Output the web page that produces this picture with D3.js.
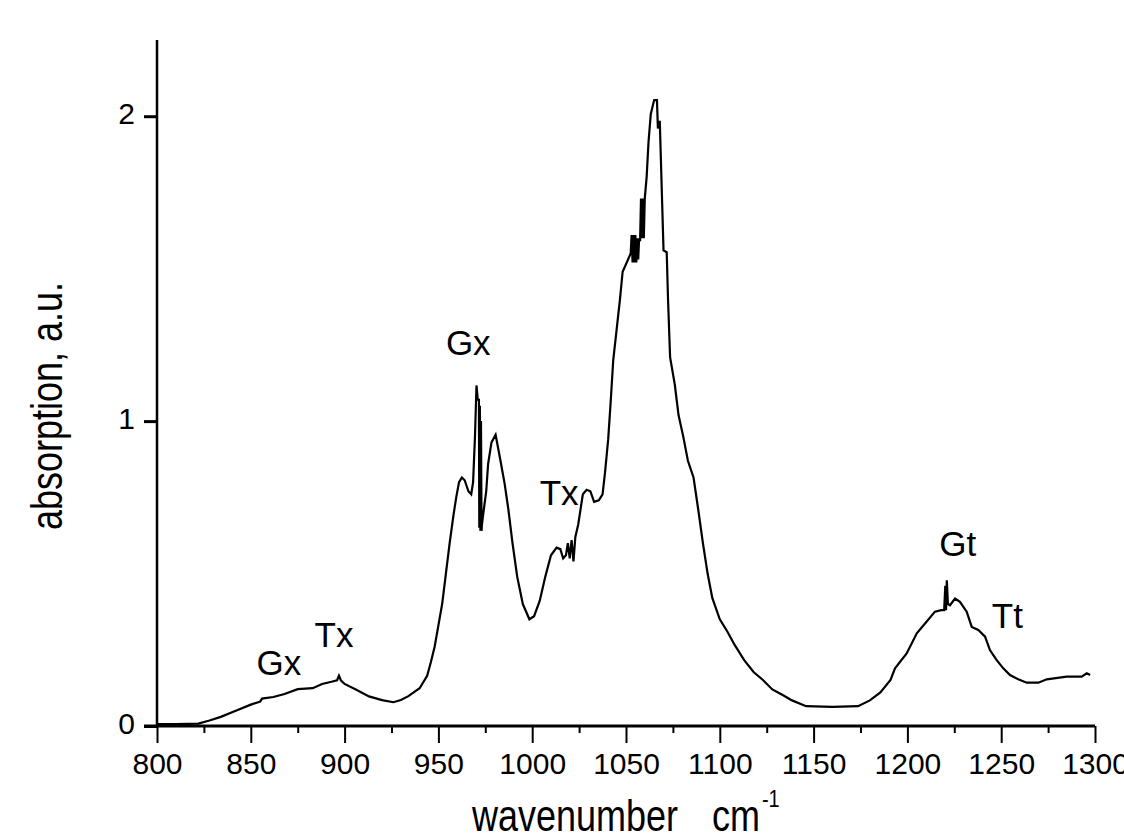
<!DOCTYPE html>
<html>
<head>
<meta charset="utf-8">
<script src="https://cdn.jsdelivr.net/npm/d3@7"></script>
<style>
  html, body { margin: 0; padding: 0; background: #fff; }
  svg { display: block; }
  text { font-family: "Liberation Sans", Arial, sans-serif; fill: #000; }
</style>
</head>
<body>
<svg id="chart" width="1124" height="834"></svg>
<script>
// ---- data ----
const wavenumber = [800, 810, 822, 828, 834, 842, 850, 855, 856, 862, 868, 875, 883, 888, 893, 896, 897, 898, 900, 906, 913, 920, 926, 930, 934, 940, 944, 946, 948, 950, 952, 954, 956, 958, 959.5, 961, 962.5, 964, 966, 967.5, 968.5, 969.5, 970.3, 971, 971.6, 971.8, 972.1, 972.4, 972.7, 973, 973.2, 974, 975.5, 976.5, 978.3, 980.5, 982.8, 985.3, 987.3, 989.5, 992, 995, 998.5, 1001, 1004, 1007, 1010, 1013, 1015, 1016.5, 1018, 1019, 1020, 1021, 1022, 1023, 1024.5, 1025.5, 1027, 1029, 1031, 1033, 1035.5, 1037.5, 1038.8, 1040.5, 1041.8, 1043.2, 1045, 1046.8, 1048.2, 1050.4, 1052.5, 1053, 1053.5, 1054, 1054.5, 1055, 1055.5, 1056, 1056.5, 1057, 1057.5, 1058, 1058.5, 1059, 1059.5, 1060, 1061, 1062, 1063.2, 1065, 1066.5, 1067, 1068, 1069, 1070, 1071.7, 1072.4, 1073.5, 1076, 1078, 1080.5, 1083, 1086, 1088.5, 1091, 1093.5, 1096, 1100, 1104, 1108, 1113, 1118, 1123, 1128, 1134, 1138.5, 1146, 1160, 1173.7, 1180, 1185.6, 1191, 1193.4, 1199.6, 1205, 1209.4, 1214.7, 1218, 1219.6, 1220.2, 1220.6, 1221, 1221.6, 1222.7, 1225.4, 1228, 1231.6, 1234.3, 1237.8, 1241.4, 1244, 1247.6, 1251.1, 1254.7, 1259.1, 1263.6, 1269.8, 1274.3, 1284.9, 1292.9, 1295.6, 1297.4];
const absorption = [0.006, 0.006, 0.008, 0.018, 0.03, 0.05, 0.07, 0.08, 0.09, 0.095, 0.105, 0.121, 0.124, 0.138, 0.145, 0.15, 0.165, 0.15, 0.138, 0.12, 0.097, 0.085, 0.078, 0.085, 0.098, 0.124, 0.165, 0.21, 0.26, 0.33, 0.40, 0.50, 0.60, 0.69, 0.75, 0.80, 0.815, 0.806, 0.77, 0.76, 0.80, 0.95, 1.117, 1.07, 1.07, 0.65, 1.05, 0.64, 1.0, 0.64, 0.66, 0.70, 0.77, 0.86, 0.93, 0.955, 0.88, 0.795, 0.71, 0.60, 0.49, 0.40, 0.35, 0.36, 0.41, 0.49, 0.56, 0.585, 0.58, 0.55, 0.56, 0.60, 0.55, 0.61, 0.54, 0.62, 0.66, 0.70, 0.76, 0.775, 0.77, 0.735, 0.74, 0.76, 0.83, 0.94, 1.06, 1.20, 1.30, 1.40, 1.49, 1.52, 1.55, 1.61, 1.52, 1.61, 1.52, 1.61, 1.52, 1.60, 1.53, 1.60, 1.59, 1.73, 1.60, 1.73, 1.60, 1.73, 1.80, 1.915, 2.007, 2.053, 2.053, 1.96, 1.985, 1.773, 1.56, 1.554, 1.40, 1.21, 1.12, 1.02, 0.95, 0.87, 0.815, 0.71, 0.60, 0.50, 0.42, 0.35, 0.31, 0.265, 0.216, 0.177, 0.151, 0.12, 0.10, 0.084, 0.065, 0.063, 0.065, 0.084, 0.11, 0.151, 0.189, 0.238, 0.304, 0.336, 0.375, 0.38, 0.38, 0.46, 0.38, 0.478, 0.40, 0.396, 0.418, 0.407, 0.375, 0.325, 0.315, 0.293, 0.249, 0.216, 0.189, 0.167, 0.153, 0.142, 0.142, 0.153, 0.162, 0.162, 0.173, 0.167];

const xTicks = [800, 850, 900, 950, 1000, 1050, 1100, 1150, 1200, 1250, 1300];
const xMinorTicks = [825, 875, 925, 975, 1025, 1075, 1125, 1175, 1225, 1275];
const yTicks = [0, 1, 2];

const bandLabels = ["Gx", "Tx", "Gx", "Tx", "Gt", "Tt"];
const bandLabelX = [853, 884, 954, 1004, 1217, 1245];   // wavenumber of label left edge
const bandLabelY = [0.167, 0.259, 1.216, 0.724, 0.557, 0.321]; // absorption at baseline

const xTitle = "wavenumber";
const xTitleUnit = "cm";
const xTitleSup = "-1";
const yTitle = "absorption, a.u.";

// ---- layout ----
const svg = d3.select("#chart");
const mLeft = 157, mRight = 1095, mTop = 40, mBottom = 726;

const x = d3.scaleLinear().domain([800, 1300]).range([mLeft, mRight]);
const y = d3.scaleLinear().domain([0, 2.25]).range([mBottom, mTop]);

// axis lines
svg.append("line").attr("x1", mLeft - 13).attr("x2", mRight).attr("y1", mBottom).attr("y2", mBottom)
  .attr("stroke", "#000").attr("stroke-width", 3);
svg.append("line").attr("x1", mLeft).attr("x2", mLeft).attr("y1", mTop).attr("y2", mBottom)
  .attr("stroke", "#000").attr("stroke-width", 2.5);

// x axis ticks
const xAxis = d3.axisBottom(x).tickValues(xTicks).tickSize(17).tickPadding(10).tickFormat(d3.format("d"));
const gx = svg.append("g").attr("transform", `translate(0,${mBottom})`).call(xAxis);
gx.select(".domain").remove();
gx.selectAll(".tick line").attr("stroke", "#000").attr("stroke-width", 2);
gx.selectAll(".tick text").attr("font-size", 30).attr("font-family", "Liberation Sans, Arial, sans-serif")
  .attr("fill", "#000").attr("dy", null).attr("y", 48);

const xMinor = d3.axisBottom(x).tickValues(xMinorTicks).tickSize(7).tickFormat("");
const gxm = svg.append("g").attr("transform", `translate(0,${mBottom})`).call(xMinor);
gxm.select(".domain").remove();
gxm.selectAll(".tick line").attr("stroke", "#000").attr("stroke-width", 2);

// y axis ticks
const yAxis = d3.axisLeft(y).tickValues(yTicks).tickSize(13).tickPadding(9).tickFormat(d3.format("d"));
const gy = svg.append("g").attr("transform", `translate(${mLeft},0)`).call(yAxis);
gy.select(".domain").remove();
gy.selectAll(".tick line").attr("stroke", "#000").attr("stroke-width", 3);
gy.selectAll(".tick text").attr("font-size", 30).attr("font-family", "Liberation Sans, Arial, sans-serif")
  .attr("fill", "#000").attr("dy", "0.25em").attr("x", -22);

// spectrum
const pts = wavenumber.map((w, i) => [w, absorption[i]]);
const line = d3.line().x(d => x(d[0])).y(d => y(d[1]));
svg.append("path").datum(pts).attr("d", line).attr("fill", "none")
  .attr("stroke", "#000").attr("stroke-width", 2.2).attr("stroke-linejoin", "miter");

// band labels
svg.append("g").selectAll("text").data(bandLabels).join("text")
  .attr("x", (d, i) => x(bandLabelX[i]))
  .attr("y", (d, i) => y(bandLabelY[i]))
  .attr("font-size", 35)
  .attr("fill", "#222")
  .text(d => d);

// x title
const xt = svg.append("text")
  .attr("transform", `translate(472,831) scale(1,1.22)`)
  .attr("font-size", 36);
xt.append("tspan").text(xTitle);
xt.append("tspan").attr("x", 240).text(xTitleUnit);
xt.append("tspan").attr("font-size", 20).attr("dy", -20).attr("dx", 2).text(xTitleSup);

// y title
svg.append("text")
  .attr("transform", `translate(62,406) rotate(-90) scale(1,1.25)`)
  .attr("text-anchor", "middle")
  .attr("font-size", 36)
  .text(yTitle);
</script>
</body>
</html>
